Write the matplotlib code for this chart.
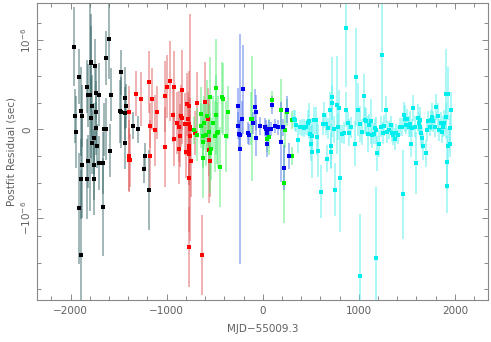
import matplotlib
matplotlib.use("Agg")
import matplotlib.pyplot as plt
import numpy as np

# residuals in units of 1e-6 s, x in days relative to MJD 55009.3
blk_x = [-1960, -1953, -1949, -1918, -1915, -1897, -1894, -1894, -1880, -1887,
         -1828, -1821, -1824, -1828, -1797, -1793, -1783, -1779, -1790, -1776,
         -1762, -1748, -1741, -1741, -1731, -1724, -1755, -1755, -1703, -1700,
         -1661, -1655, -1627, -1627, -1599, -1585, -1661, -1592, -1474, -1485,
         -1478, -1433, -1433, -1429, -1426, -1349, -1304, -1235, -1228, -1183]
blk_y = [0.93, 0.15, -0.03, -0.89, 0.59, 0.20, -0.56, -1.41, 0.15, -0.40,
         0.48, 0.38, -0.36, -0.56, 0.38, 0.75, 0.76, 0.26, 0.13, -0.15,
         -0.10, 0.71, 0.41, 0.19, 0.01, -0.19, -0.40, -0.56, 0.39, -0.38,
         -0.38, 0.00, 0.00, 0.80, 1.01, 0.39, -0.87, -0.24, 0.64, 0.20,
         0.19, 0.35, 0.18, -0.15, 0.26, 0.04, 0.00, -0.45, -0.30, -0.68]
blk_e = [0.44, 0.30, 0.40, 0.62, 0.31, 0.50, 0.45, 0.95, 0.35, 0.60,
         0.30, 0.35, 0.30, 0.45, 1.30, 0.55, 0.40, 0.35, 0.45, 0.35,
         0.40, 0.30, 0.30, 0.35, 0.30, 0.25, 0.40, 0.40, 0.35, 0.30,
         0.35, 0.30, 0.35, 0.30, 0.45, 0.30, 0.55, 0.30, 0.25, 0.35,
         0.40, 0.35, 0.30, 0.30, 0.25, 0.15, 0.15, 0.15, 0.15, 0.45]

red_x = [-1391, -1391, -1385, -1391, -1318, -1270, -1186, -1169, -1158, -1176,
         -1121, -1103, -1013, -1013, -996, -965, -937, -919, -919, -888,
         -874, -867, -857, -850, -843, -836, -812, -798, -784, -777,
         -767, -763, -760, -756, -767, -767, -763, -763, -763, -760,
         -749, -708, -684, -628, -600, -569, -562, -555, -545]
red_y = [-0.30, -0.34, -0.35, 0.19, 0.40, 0.34, 0.53, 0.04, 0.34, -0.30,
         -0.01, 0.19, 0.37, -0.20, 0.48, 0.54, 0.16, 0.48, -0.11, 0.07,
         0.03, -0.22, -0.07, 0.15, 0.44, 0.13, 0.06, -0.25, 0.28, 0.12,
         0.26, 0.06, 0.00, -0.08, -0.19, -0.23, -0.28, -0.55, -1.32, 0.02,
         -0.36, -0.04, 0.29, -1.41, 0.31, 0.11, -0.12, -0.23, -0.36]
red_e = [0.40, 0.35, 0.30, 0.30, 0.25, 0.30, 0.35, 0.25, 0.35, 0.40,
         0.40, 0.30, 0.40, 0.45, 0.35, 0.45, 0.30, 0.40, 0.30, 0.35,
         0.40, 0.40, 0.35, 0.35, 0.45, 0.30, 0.35, 0.30, 0.35, 0.30,
         0.40, 0.30, 0.35, 0.30, 0.35, 0.40, 0.35, 0.60, 0.45, 1.28,
         0.40, 0.25, 0.35, 0.45, 0.45, 0.35, 0.40, 0.60, 0.40]

grn_x = [-715, -680, -645, -638, -624, -624, -621, -607, -593, -579,
         -565, -552, -541, -545, -517, -489, -493, -482, -475, -465,
         -441, -423, -413, -385, -364, -125, -111, 62, 45, 101,
         191, 222, 229, 257, 305, 309]
grn_y = [-0.01, -0.06, 0.17, 0.04, -0.07, -0.14, -0.32, 0.07, -0.06, 0.15,
         -0.03, -0.27, -0.22, 0.36, 0.07, 0.46, -0.08, 0.16, -0.04, -0.03,
         -0.42, 0.36, 0.34, -0.08, 0.19, 0.12, 0.12, -0.09, -0.11, 0.33,
         0.22, -0.60, -0.01, 0.19, -0.30, 0.10]
grn_e = [0.15, 0.30, 0.30, 0.25, 0.35, 0.30, 0.45, 0.30, 0.35, 0.40,
         0.30, 0.45, 0.35, 0.45, 0.30, 0.55, 0.40, 0.45, 0.35, 0.40,
         0.45, 0.40, 0.40, 0.40, 0.30, 0.30, 0.70, 0.20, 0.15, 0.10,
         0.35, 0.45, 0.20, 0.15, 0.10, 0.10]

blu_x = [-260, -257, -243, -232, -211, -215, -239, -153, -140, -83,
         -66, -104, -66, -24, 21, 30, 40, 49, 66, 88,
         101, 130, 160, 187, 207, 222, 257, 278]
blu_y = [0.26, 0.04, -0.05, -0.22, 0.45, 0.12, -0.06, -0.04, -0.06, 0.25,
         0.19, 0.07, -0.10, 0.04, 0.03, 0.00, -0.04, -0.16, 0.00, 0.00,
         0.27, 0.04, 0.02, -0.14, 0.02, -0.43, 0.22, -0.30]
blu_e = [0.20, 0.15, 0.15, 1.29, 0.50, 0.20, 0.15, 0.12, 0.12, 0.20,
         0.20, 0.12, 0.20, 0.10, 0.10, 0.10, 0.10, 0.15, 0.10, 0.08,
         0.10, 0.08, 0.08, 0.45, 0.10, 0.25, 0.15, 0.15]

cyn_x = [323, 333, 350, 371, 385, 409, 430, 447, 472, 482,
         493, 503, 513, 517, 531, 558, 565, 576, 604, 628,
         642, 656, 670, 680, 697, 708, 715, 718, 725, 742,
         756, 777, 787, 798, 808, 822, 843, 864, 864, 888,
         898, 916, 961, 975, 992, 1009, 1016, 1030, 1051, 1062,
         1079, 1093, 1110, 1124, 1138, 1155, 1169, 1176, 1183, 1193,
         1211, 1228, 1238, 1252, 1266, 1280, 1297, 1315, 1332, 1349,
         1360, 1374, 1391, 1408, 1426, 1447, 1457, 1471, 1485, 1495,
         1506, 1519, 1530, 1544, 1554, 1565, 1582, 1599, 1613, 1624,
         1634, 1641, 1651, 1662, 1672, 1703, 1714, 1724, 1738, 1748,
         1759, 1773, 1793, 1807, 1821, 1839, 1852, 1866, 1877, 1887,
         1905, 1911, 1918, 1922, 1925, 1932, 1946, 1956, 1946]
cyn_y = [0.12, 0.10, 0.05, -0.12, 0.02, 0.02, 0.01, 0.02, 0.07, 0.09,
         -0.05, -0.16, -0.25, -0.07, 0.10, 0.10, -0.09, -0.24, -0.70, 0.06,
         0.16, 0.06, -0.33, 0.01, 0.22, -0.25, -0.19, 0.36, 0.30, 0.00,
         -0.68, 0.27, 0.03, 0.24, -0.55, -0.05, -0.04, 1.14, 0.22, 0.07,
         -0.04, 0.02, -0.16, 0.59, 0.22, 0.06, -1.65, -0.03, 0.37, 0.10,
         0.09, -0.05, 0.05, 0.09, -0.06, -0.05, 0.01, -1.45, -0.01, -0.27,
         -0.16, 0.03, 0.84, -0.04, 0.04, 0.22, -0.03, -0.01, 0.05, -0.04,
         -0.06, -0.11, -0.04, -0.06, 0.03, 0.03, -0.73, 0.16, 0.12, 0.05,
         0.11, 0.03, 0.06, -0.16, 0.01, 0.24, 0.03, -0.38, 0.13, 0.07,
         0.10, 0.03, -0.04, -0.10, -0.19, -0.27, -0.01, 0.09, 0.03, 0.10,
         0.14, 0.09, 0.03, 0.25, 0.15, -0.01, 0.07, -0.03, 0.03, 0.07,
         0.14, 0.40, -0.37, -0.64, -0.19, 0.40, 0.01, 0.22, -0.16]
cyn_e = [0.10, 0.12, 0.08, 0.15, 0.08, 0.10, 0.10, 0.08, 0.15, 0.20,
         0.15, 0.20, 0.30, 0.20, 0.15, 0.15, 0.20, 0.30, 0.30, 0.12,
         0.15, 0.12, 0.15, 0.12, 0.20, 0.20, 0.25, 0.45, 0.20, 0.15,
         0.30, 0.55, 0.15, 0.20, 0.60, 0.10, 0.12, 0.67, 0.20, 0.12,
         0.15, 0.12, 0.25, 0.55, 0.30, 0.20, 0.70, 0.15, 0.25, 0.15,
         0.15, 0.20, 0.12, 0.25, 0.15, 0.12, 0.10, 0.80, 0.15, 0.20,
         0.15, 0.12, 0.65, 0.12, 0.12, 0.15, 0.12, 0.10, 0.10, 0.10,
         0.12, 0.12, 0.10, 0.10, 0.10, 0.10, 0.50, 0.15, 0.15, 0.10,
         0.12, 0.12, 0.15, 0.15, 0.10, 0.15, 0.12, 0.35, 0.15, 0.12,
         0.15, 0.12, 0.15, 0.12, 0.15, 0.15, 0.12, 0.12, 0.10, 0.12,
         0.15, 0.12, 0.12, 0.15, 0.15, 0.12, 0.12, 0.12, 0.12, 0.15,
         0.15, 0.50, 0.30, 0.30, 0.20, 0.30, 0.15, 0.20, 0.15]

groups = [
    (blk_x, blk_y, blk_e, "black", "#3d6b6b"),
    (red_x, red_y, red_e, "#ff0000", "#e06060"),
    (grn_x, grn_y, grn_e, "#00ee00", "#55ee77"),
    (blu_x, blu_y, blu_e, "#0000ee", "#5577ee"),
    (cyn_x, cyn_y, cyn_e, "#00eeee", "#55f0f0"),
]

fig = plt.figure(figsize=(4.91, 3.42), dpi=100)
ax = fig.add_axes([0.0754, 0.1228, 0.9186, 0.8684])

for x, y, e, mc, ec in groups:
    ax.errorbar(x, y, yerr=e, fmt="s", ms=2.8, mfc=mc, mec=mc, mew=0,
                ecolor=ec, elinewidth=1.1, capsize=1.5, capthick=0.7,
                zorder=2)
# error bars are drawn semi-transparent, markers stay solid
for coll in ax.collections:
    coll.set_alpha(0.62)

ax.set_xlim(-2350, 2345)
ax.set_ylim(-1.92, 1.42)

ax.set_xticks([-2000, -1000, 0, 1000, 2000])
ax.set_xticks(np.arange(-2200, 2400, 200), minor=True)
ax.set_yticks([-1, 0, 1])
ax.set_yticklabels([r"$-10^{-6}$", "0", r"$10^{-6}$"], rotation=90, va="center")
ax.set_yticks(np.arange(-1.8, 1.4, 0.3), minor=True)

gray = "#606060"
ax.tick_params(which="both", direction="in", top=True, right=True,
               colors="#777777", labelcolor=gray, labelsize=7.5, width=0.6)
ax.tick_params(which="major", length=4.5)
ax.tick_params(which="minor", length=3)
ax.tick_params(axis="x", pad=4)
ax.tick_params(axis="y", pad=3)
for s in ax.spines.values():
    s.set_color("#888888")
    s.set_linewidth(0.8)

ax.set_xlabel("MJD\u221255009.3", fontsize=7.5, color=gray, labelpad=6)
ax.set_ylabel("Postfit Residual (sec)", fontsize=7.5, color=gray, labelpad=2)

fig.savefig("out.png", dpi=100)
